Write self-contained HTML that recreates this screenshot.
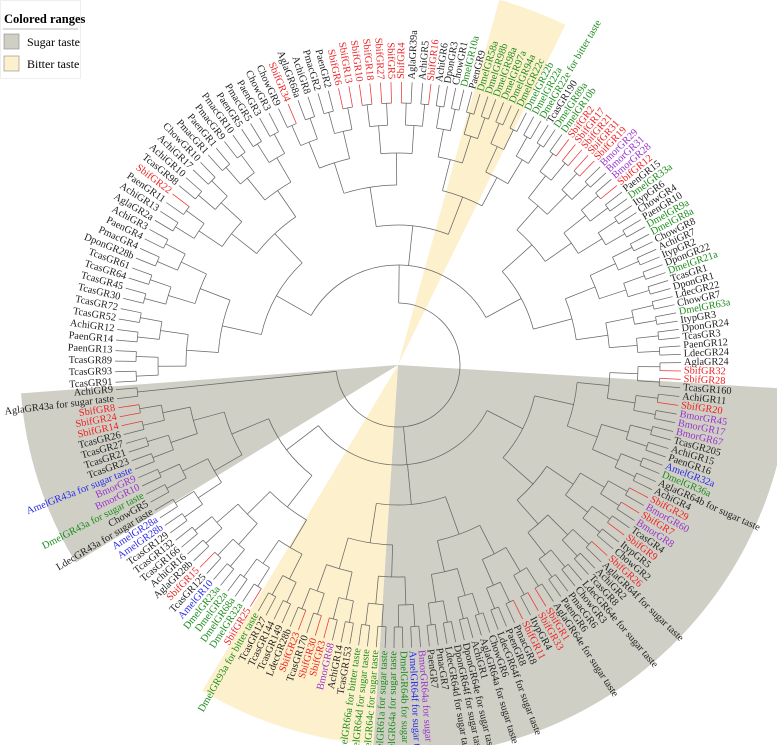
<!DOCTYPE html>
<html><head><meta charset="utf-8">
<style>
html,body{margin:0;padding:0;background:#fff;}
svg{display:block;font-family:"Liberation Serif",serif;}
</style></head>
<body>
<svg id="chart" width="777" height="745" viewBox="0 0 777 745">
  <g id="ranges"></g>
  <g id="branches" fill="none" stroke="#666" stroke-width="0.75"></g>
  <g id="labels" font-size="10.3"></g>
  <g>
    <rect x="0.5" y="0.5" width="80" height="78" fill="#fff" stroke="#eee"/>
    <text x="4" y="23" font-size="12.5" font-weight="bold">Colored ranges</text>
    <line x1="3" y1="29" x2="78" y2="29" stroke="#bbb"/>
    <rect x="4" y="34" width="15" height="15" fill="#cfcfc6" stroke="#888" stroke-width="0.6"/>
    <text x="27" y="46" font-size="12">Sugar taste</text>
    <rect x="4" y="56" width="15" height="15" fill="#fdf0cc" stroke="#888" stroke-width="0.6"/>
    <text x="27" y="68" font-size="12">Bitter taste</text>
  </g>
</svg>
<script>
const CX = 398, CY = 365;
const leaves = ["TcasGR91","TcasGR93","TcasGR89","PaenGR13","PaenGR14","AchiGR12","TcasGR52","TcasGR72","TcasGR30","TcasGR45","TcasGR64","TcasGR61","DponGR28b","PmacGR4","PaenGR4","AchiGR3","AglaGR2a","AchiGR13","PaenGR11","SbifGR22","TcasGR98","AchiGR10","AchiGR17","ChowGR10","PmacGR1","PaenGR1","PmacGR9","PmacGR10","PaenGR5","PmacGR5","PaenGR3","ChowGR3","ChowGR9","SbifGR34","AglaGR68a","AchiGR8","PmacGR2","PaenGR2","SbifGR6","SbifGR13","SbifGR10","SbifGR18","SbifGR27","SbifGR5","SbifGR4","AglaGR39a","AchiGR5",
"SbifGR16","AchiGR6","DponGR3","ChowGR1","DmelGR10a","PaenGR9","DmelGR58a","DmelGR98b","DmelGR98a","DmelGR97a","DmelGR94a","DmelGR22c","DmelGR22b","DmelGR22a","DmelGR22e for bitter taste","TcasGR190","DmelGR89a","DmelGR10b","SbifGR2","SbifGR17","SbifGR21","SbifGR31","SbifGR19","BmorGR29","BmorGR31","BmorGR28","SbifGR12","PaenGR15","DmelGR33a","ItypGR6","ChowGR4","PaenGR10","DmelGR9a","DmelGR8a","ChowGR8","AchiGR7","ItypGR2","DponGR22","DmelGR21a","TcasGR1","DponGR1","LdecGR22","ChowGR7","DmelGR63a","ItypGR3","DponGR24","TcasGR3","PaenGR12","LdecGR24","AglaGR24","SbifGR32","SbifGR28",
"TcasGR160","AchiGR11","SbifGR20","BmorGR45","BmorGR17","BmorGR67","TcasGR205","AchiGR15","PaenGR16","AmelGR32a","DmelGR36a","AglaGR64b for sugar taste","AchiGR4","SbifGR29","BmorGR60","SbifGR7","BmorGR8","TcasGR4","SbifGR9","ItypGR5","ChowGR2","SbifGR26","AglaGR64f for sugar taste","AchiGR2","TcasGR8","LdecGR64e for sugar taste","ChowGR3","PmacGR6","PaenGR6","AglaGR64e for sugar taste","SbifGR1","SbifGR33","ItypGR4","SbifGR11","PmacGR8","PaenGR8","LdecGR64f for sugar taste","ChowGR6","AglaGR64a for sugar taste","AchiGR1","DponGR64e for sugar taste","DponGR64f for sugar taste","LdecGR64d for sugar taste","PmacGR7","PaenGR7","BmorGR64a for sugar taste","AmelGR64f for sugar taste","DmelGR64b for sugar taste","DmelGR64a for sugar taste","DmelGR61a for sugar taste","DmelGR64c for sugar taste","DmelGR64d for sugar taste",
"DmelGR66a for bitter taste","TcasGR153","AchiGR14","BmorGR68","SbifGR3","SbifGR30","TcasGR170","SbifGR23","LdecGR28b","TcasGR149","TcasGR144","TcasGR127",
"DmelGR93a for bitter taste","SbifGR25","DmelGR32a","DmelGR68a","DmelGR2a","DmelGR23a","AmelGR10","TcasGR125","SbifGR15","AglaGR28b","AchiGR16","TcasGR166","TcasGR132","TcasGR129","AmelGR28b","AmelGR28a","LdecGR43a for sugar taste","ChowGR5","DmelGR43a for sugar taste","BmorGR10","BmorGR9","AmelGR43a for sugar taste","TcasGR23","TcasGR21","TcasGR27","TcasGR26","SbifGR14","SbifGR24","SbifGR8","AglaGR43a for sugar taste","AchiGR9"];
const anchorNames = ["TcasGR91","AchiGR5","TcasGR160","DmelGR66a for bitter taste","DmelGR93a for bitter taste","AchiGR9"];
const anchorAngles = [176.5, 275, 364.6, 458, 479.6, 535];
const rangeStarts = [148.5, 3.5, 93.7, -74.5];
const rangeEnds = [175.7, 93.7, 121, -63.8];
const rangeRadii = [378, 392, 380, 379];
const rangeTypes = ["sugar","sugar","bitter","bitter"];

const NS = "http://www.w3.org/2000/svg";
function mk(tag, attrs){const e=document.createElementNS(NS,tag);for(const k in attrs)e.setAttribute(k,attrs[k]);return e;}
function pt(r,a){const t=a*Math.PI/180;return [CX+r*Math.cos(t),CY+r*Math.sin(t)];}
function colorOf(n){
  if(n.startsWith("Sbif"))return "#ee2222";
  if(n.startsWith("Dmel"))return "#1a8c1a";
  if(n.startsWith("Amel"))return "#2a2ae8";
  if(n.startsWith("Bmor"))return "#9933cc";
  return "#222";
}
const idx = anchorNames.map(n=>leaves.indexOf(n));
const ang = leaves.map((n,i)=>{
  for(let k=0;k<idx.length-1;k++){
    if(i>=idx[k]&&i<=idx[k+1]){const f=(i-idx[k])/Math.max(1,idx[k+1]-idx[k]);return anchorAngles[k]+f*(anchorAngles[k+1]-anchorAngles[k]);}
  }
  return anchorAngles[0];
});
const rg=document.getElementById("ranges");
rangeStarts.forEach((s,i)=>{
  const e=rangeEnds[i],R=rangeRadii[i];
  const p1=pt(R,s),p2=pt(R,e);
  const large=(e-s)>180?1:0;
  const p=mk("path",{d:`M${CX},${CY} L${p1[0]},${p1[1]} A${R},${R} 0 ${large} 1 ${p2[0]},${p2[1]} Z`,fill:rangeTypes[i]==="sugar"?"#cfcfc6":"#fdf0cc"});
  
  
  rg.appendChild(p);
});
const br=document.getElementById("branches");
const TIP=283;
const levelR=[262,240,212,180,140,100,62,30];
let nodes=leaves.map((n,i)=>({a:ang[i],r:TIP,red:n.startsWith("Sbif")}));
let level=0;
while(nodes.length>1&&level<levelR.length){
  const R=levelR[level];const next=[];
  const size=level<5?2:3;
  for(let i=0;i<nodes.length;i+=size){
    const grp=nodes.slice(i,i+size);
    grp.forEach(g=>{
      const a=pt(R,g.a),b=pt(g.r,g.a);
      const l=mk("line",{x1:a[0],y1:a[1],x2:b[0],y2:b[1]});
      if(g.red&&level===0)l.setAttribute("stroke","#ee3333");
      
      
      br.appendChild(l);
    });
    if(grp.length>1){
      const a0=grp[0].a,a1=grp[grp.length-1].a;
      const p0=pt(R,a0),p1=pt(R,a1);
      const arc=mk("path",{d:`M${p0[0]},${p0[1]} A${R},${R} 0 ${(a1-a0)>180?1:0} 1 ${p1[0]},${p1[1]}`});
      
      
      br.appendChild(arc);
    }
    next.push({a:(grp[0].a+grp[grp.length-1].a)/2,r:R,red:false});
  }
  nodes=next;level++;
}
const lg=document.getElementById("labels");
leaves.forEach((n,i)=>{
  let a=ang[i]%360;if(a<0)a+=360;
  const p=pt(TIP+3,a);
  const left=a>90&&a<270;
  const rot=left?a-180:a;
  const t=mk("text",{x:p[0],y:p[1],fill:colorOf(n),"text-anchor":left?"end":"start","dominant-baseline":"middle",transform:`rotate(${rot} ${p[0]} ${p[1]})`});
  t.textContent=n;
  
  
  lg.appendChild(t);
});
</script>
</body></html>
